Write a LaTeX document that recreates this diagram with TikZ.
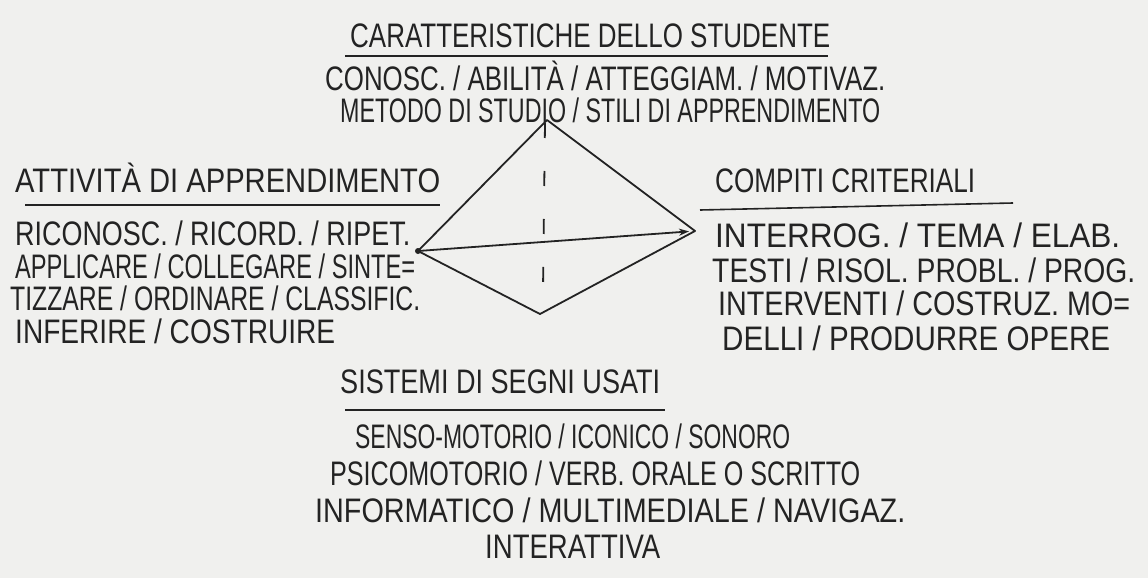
\documentclass[tikz,border=0pt]{standalone}
\usepackage{fontspec}
\setmainfont{Liberation Sans}
\usetikzlibrary{arrows.meta}
\definecolor{paper}{RGB}{240,240,238}
\definecolor{ink}{RGB}{35,35,35}
\newcommand\hwline[2]{\resizebox{#1pt}{\height}{#2}}
\tikzset{
  hand/.style={anchor=base west,inner sep=0pt,text=ink,font=\fontsize{34}{34}\selectfont},
  rule/.style={draw=ink,line width=1.6pt},
  edge/.style={draw=ink,line width=1.8pt,line join=round},
  dashline/.style={draw=ink,line width=1.8pt,dash pattern=on 15pt off 33pt}
}
\begin{document}
\begin{tikzpicture}[x=1pt,y=-1pt]
\fill[paper] (0,0) rectangle (1148,578);
\useasboundingbox (0,0) rectangle (1148,578);
% top
\node[hand] (t0) at (350,48) {\hwline{480}{CARATTERISTICHE DELLO STUDENTE}};
\node[hand] (t1) at (325,90) {\hwline{560}{CONOSC. / ABILITÀ / ATTEGGIAM. / MOTIVAZ.}};
\node[hand] (t2) at (340,122) {\hwline{540}{METODO DI STUDIO / STILI DI APPRENDIMENTO}};
\coordinate (u0a) at (345,56); \coordinate (u0b) at (828,56);
\draw[rule] (u0a) -- (u0b);
% left
\node[hand] (l0) at (15,192) {\hwline{425}{ATTIVITÀ DI APPRENDIMENTO}};
\coordinate (u1a) at (25,205); \coordinate (u1b) at (440,205);
\draw[rule] (u1a) -- (u1b);
\node[hand] (l1) at (15,245) {\hwline{395}{RICONOSC. / RICORD. / RIPET.}};
\node[hand] (l2) at (15,278) {\hwline{400}{APPLICARE / COLLEGARE / SINTE=}};
\node[hand] (l3) at (10,310) {\hwline{410}{TIZZARE / ORDINARE / CLASSIFIC.}};
\node[hand] (l4) at (15,343) {\hwline{320}{INFERIRE / COSTRUIRE}};
% right
\node[hand] (r0) at (715,192) {\hwline{260}{COMPITI CRITERIALI}};
\coordinate (u2a) at (700,210); \coordinate (u2b) at (1013,203);
\draw[rule] (u2a) -- (u2b);
\node[hand] (r1) at (715,247) {\hwline{405}{INTERROG. / TEMA / ELAB.}};
\node[hand] (r2) at (712,282) {\hwline{423}{TESTI / RISOL. PROBL. / PROG.}};
\node[hand] (r3) at (718,315) {\hwline{412}{INTERVENTI / COSTRUZ. MO=}};
\node[hand] (r4) at (722,350) {\hwline{388}{DELLI / PRODURRE OPERE}};
% bottom
\node[hand] (b0) at (340,393) {\hwline{320}{SISTEMI DI SEGNI USATI}};
\coordinate (u3a) at (345,410); \coordinate (u3b) at (665,410);
\draw[rule] (u3a) -- (u3b);
\node[hand] (b1) at (355,448) {\hwline{435}{SENSO-MOTORIO / ICONICO / SONORO}};
\node[hand] (b2) at (330,485) {\hwline{530}{PSICOMOTORIO / VERB. ORALE O SCRITTO}};
\node[hand] (b3) at (315,522) {\hwline{590}{INFORMATICO / MULTIMEDIALE / NAVIGAZ.}};
\node[hand] (b4) at (485,558) {\hwline{175}{INTERATTIVA}};
% diamond
\coordinate (T) at (547,120);
\coordinate (L) at (418,251);
\coordinate (R) at (695,231);
\coordinate (B) at (540,314);
\coordinate (D1) at (545,123);
\coordinate (D2) at (543,290);
\draw[edge] (L) -- (T) -- (R) -- (B) -- cycle;
\draw[edge,shorten >=6pt,-{Stealth[length=10pt,width=7pt]}] (L) -- (R);
\draw[dashline] (D1) -- (D2);
\fill[ink] (L) circle (3pt);
\end{tikzpicture}
\end{document}
